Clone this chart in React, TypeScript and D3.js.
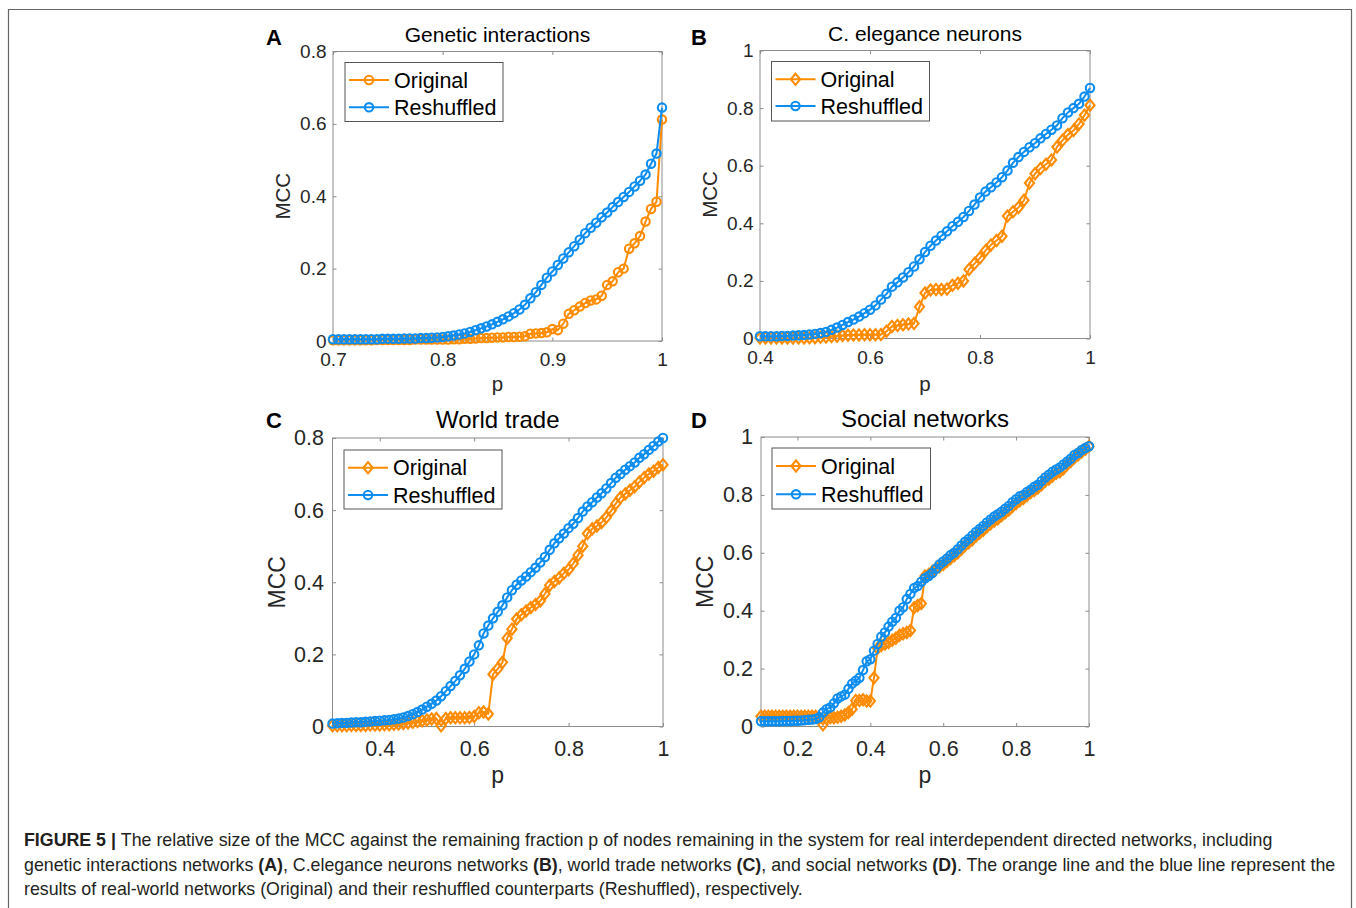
import React, { useEffect, useRef } from "react";
import * as d3 from "d3";

// sample positions p (regular grid of the simulation)
const grid = (start: number, step: number, n: number) =>
  d3.range(n).map((i) => +(start + i * step).toFixed(3));

// ---- A: Genetic interactions ----
const pA = grid(0.7, 0.005, 61);
const origA = [
  0.002, 0.002, 0.002, 0.002, 0.002, 0.002, 0.002, 0.002, 0.003, 0.003, 0.003,
  0.003, 0.003, 0.003, 0.003, 0.004, 0.004, 0.004, 0.004, 0.004, 0.004,
  0.004, 0.005, 0.005, 0.006, 0.006, 0.007, 0.008, 0.008, 0.009, 0.01, 0.01,
  0.011, 0.011, 0.012,
  0.013, 0.02, 0.021, 0.022, 0.024, 0.033, 0.03, 0.048, 0.075, 0.085, 0.095,
  0.105, 0.112, 0.115, 0.125, 0.155, 0.165, 0.19, 0.2, 0.255, 0.27, 0.29,
  0.33, 0.365, 0.385, 0.612,
];
const reshA = [
  0.005, 0.005, 0.005, 0.005, 0.005, 0.005, 0.005, 0.005, 0.005, 0.006, 0.006,
  0.006, 0.006, 0.007, 0.007, 0.007, 0.008, 0.008, 0.009, 0.01, 0.011,
  0.013, 0.015, 0.018, 0.021, 0.025, 0.03, 0.035, 0.04, 0.046, 0.053,
  0.06, 0.068, 0.077, 0.087, 0.1, 0.118, 0.135, 0.155, 0.175, 0.192,
  0.21, 0.228, 0.245, 0.262, 0.28, 0.298, 0.313, 0.327, 0.342, 0.355,
  0.37, 0.384, 0.398, 0.412, 0.427, 0.443, 0.46, 0.49, 0.518, 0.645,
];

// ---- B: C. elegance neurons ----
const pB = grid(0.4, 0.01, 61);
const origB = [
  0.002, 0.002, 0.002, 0.002, 0.002, 0.002, 0.002, 0.002, 0.002, 0.003,
  0.003, 0.004, 0.005, 0.007, 0.008, 0.01, 0.011, 0.012, 0.012, 0.013,
  0.013, 0.013, 0.014, 0.025, 0.042, 0.045, 0.048, 0.05, 0.052, 0.11,
  0.158, 0.168, 0.17, 0.17, 0.172, 0.185, 0.192, 0.2, 0.24, 0.26,
  0.28, 0.305, 0.325, 0.34, 0.355, 0.425, 0.44, 0.455, 0.48, 0.54,
  0.572, 0.59, 0.605, 0.62, 0.665, 0.688, 0.708, 0.722, 0.745, 0.775,
  0.81,
];
const reshB = [
  0.008, 0.008, 0.008, 0.008, 0.009, 0.009, 0.01, 0.011, 0.012, 0.014,
  0.016, 0.019, 0.023, 0.03, 0.038, 0.047, 0.057, 0.066, 0.076, 0.088,
  0.1, 0.115, 0.135, 0.155, 0.18, 0.195, 0.212, 0.23, 0.25, 0.275,
  0.3, 0.322, 0.34, 0.357, 0.372, 0.39, 0.405, 0.422, 0.443, 0.465,
  0.49, 0.51, 0.525, 0.542, 0.56, 0.583, 0.61, 0.63, 0.648, 0.664,
  0.678, 0.695, 0.71, 0.725, 0.74, 0.765, 0.785, 0.8, 0.815, 0.84,
  0.87,
];

// ---- C: World trade ----
const pC = grid(0.3, 0.01, 71);
const origC = [
  0.002, 0.002, 0.002, 0.002, 0.003, 0.003, 0.003, 0.003, 0.004, 0.004,
  0.004, 0.005, 0.005, 0.006, 0.007, 0.008, 0.01, 0.012, 0.014, 0.016,
  0.018, 0.021, 0.022, 0.002, 0.022, 0.024, 0.024, 0.024, 0.024, 0.025,
  0.028, 0.038, 0.04, 0.035, 0.145, 0.16, 0.178, 0.245, 0.27, 0.298,
  0.31, 0.32, 0.33, 0.338, 0.348, 0.368, 0.392, 0.402, 0.412, 0.425,
  0.435, 0.452, 0.475, 0.5, 0.535, 0.548, 0.556, 0.566, 0.58, 0.598,
  0.618, 0.635, 0.645, 0.655, 0.665, 0.678, 0.69, 0.7, 0.708, 0.718,
  0.726,
];
const reshC = [
  0.008, 0.009, 0.01, 0.01, 0.011, 0.012, 0.012, 0.013, 0.014, 0.015,
  0.016, 0.017, 0.018, 0.02, 0.022, 0.025, 0.029, 0.034, 0.04, 0.047,
  0.055, 0.063, 0.072, 0.084, 0.098, 0.112, 0.126, 0.142, 0.16, 0.18,
  0.2, 0.225, 0.258, 0.28, 0.3, 0.318, 0.336, 0.358, 0.378, 0.393,
  0.405, 0.416, 0.428, 0.44, 0.455, 0.47, 0.49, 0.508, 0.522, 0.535,
  0.55, 0.562, 0.578, 0.596, 0.61, 0.622, 0.635, 0.647, 0.66, 0.675,
  0.69, 0.7, 0.712, 0.722, 0.732, 0.745, 0.755, 0.767, 0.778, 0.79,
  0.8,
];

// ---- D: Social networks ----
const pD = grid(0.1, 0.01, 91);
const origD = [
  0.035, 0.035, 0.035, 0.035, 0.035, 0.035, 0.035, 0.035, 0.035, 0.035,
  0.035, 0.035, 0.035, 0.035, 0.035, 0.035, 0.03, 0.006, 0.028, 0.03,
  0.03, 0.032, 0.035, 0.04, 0.048, 0.06, 0.09, 0.09, 0.092, 0.088,
  0.088, 0.168, 0.27, 0.28, 0.285, 0.29, 0.298, 0.305, 0.315, 0.32,
  0.325, 0.332, 0.41, 0.418, 0.425, 0.52, 0.525, 0.535, 0.545, 0.552,
  0.56, 0.57, 0.58, 0.59, 0.6, 0.612, 0.625, 0.635, 0.645, 0.658,
  0.668, 0.678, 0.69, 0.7, 0.71, 0.718, 0.728, 0.738, 0.748, 0.76,
  0.77, 0.78, 0.788, 0.798, 0.808, 0.815, 0.825, 0.835, 0.848, 0.855,
  0.865, 0.875, 0.88, 0.89, 0.905, 0.915, 0.928, 0.938, 0.948, 0.958,
  0.968,
];
const reshD = [
  0.018, 0.018, 0.018, 0.018, 0.018, 0.018, 0.019, 0.019, 0.019, 0.02,
  0.02, 0.021, 0.022, 0.023, 0.024, 0.026, 0.032, 0.048, 0.06, 0.066,
  0.08, 0.097, 0.104, 0.11, 0.13, 0.148, 0.158, 0.168, 0.195, 0.225,
  0.232, 0.262, 0.285, 0.31, 0.325, 0.345, 0.362, 0.375, 0.4, 0.412,
  0.44, 0.458, 0.478, 0.485, 0.5, 0.512, 0.52, 0.53, 0.545, 0.56,
  0.57, 0.58, 0.592, 0.6, 0.612, 0.625, 0.638, 0.648, 0.66, 0.672,
  0.682, 0.693, 0.705, 0.715, 0.725, 0.733, 0.742, 0.752, 0.762, 0.775,
  0.785, 0.795, 0.8, 0.81, 0.818, 0.828, 0.835, 0.848, 0.86, 0.87,
  0.88, 0.888, 0.895, 0.905, 0.915, 0.925, 0.938, 0.945, 0.955, 0.962,
  0.968,
];

const seriesNames = ["Original", "Reshuffled"];
const ORANGE = "#ff8c00";
const BLUE = "#0d8df0";
const FONT = "'Liberation Sans', Arial, Helvetica, sans-serif";

const panels = [
  {
    letter: "A", title: "Genetic interactions", p: pA, orig: origA, resh: reshA,
    xDomain: [0.7, 1], yDomain: [0, 0.8], xTicks: [0.7, 0.8, 0.9, 1], yTicks: [0, 0.2, 0.4, 0.6, 0.8],
    origMarker: "circle", box: { l: 333, r: 662, t: 51.5, b: 341 },
    tickFs: 19, titleFs: 21, labelFs: 20.5, xPad: 12, yPad: 6.5,
    letterPos: [266, 45], titleY: 41.5, ylabX: 283, xlabY: 391,
    legend: { x: 345, y: 62.5, w: 158, h: 59, rows: [17.5, 44.8] },
  },
  {
    letter: "B", title: "C. elegance neurons", p: pB, orig: origB, resh: reshB,
    xDomain: [0.4, 1], yDomain: [0, 1], xTicks: [0.4, 0.6, 0.8, 1], yTicks: [0, 0.2, 0.4, 0.6, 0.8, 1],
    origMarker: "diamond", box: { l: 760, r: 1090, t: 50.5, b: 338.5 },
    tickFs: 19, titleFs: 21, labelFs: 20.5, xPad: 12, yPad: 6.5,
    letterPos: [691, 45], titleY: 41, ylabX: 710, xlabY: 391,
    legend: { x: 771.5, y: 61.5, w: 158, h: 59.5, rows: [17.8, 44.5] },
  },
  {
    letter: "C", title: "World trade", p: pC, orig: origC, resh: reshC,
    xDomain: [0.3, 1], yDomain: [0, 0.8], xTicks: [0.4, 0.6, 0.8, 1], yTicks: [0, 0.2, 0.4, 0.6, 0.8],
    origMarker: "diamond", box: { l: 332.5, r: 663, t: 438, b: 726.5 },
    tickFs: 21.5, titleFs: 24, labelFs: 23, xPad: 14.5, yPad: 8.5,
    letterPos: [266, 428], titleY: 428, ylabX: 277, xlabY: 783,
    legend: { x: 344, y: 450, w: 158, h: 59, rows: [17.7, 45] },
  },
  {
    letter: "D", title: "Social networks", p: pD, orig: origD, resh: reshD,
    xDomain: [0.1, 1], yDomain: [0, 1], xTicks: [0.2, 0.4, 0.6, 0.8, 1], yTicks: [0, 0.2, 0.4, 0.6, 0.8, 1],
    origMarker: "diamond", box: { l: 761, r: 1089, t: 437, b: 726.5 },
    tickFs: 21.5, titleFs: 24, labelFs: 23, xPad: 14.5, yPad: 8,
    letterPos: [691, 428], titleY: 427, ylabX: 705, xlabY: 783,
    legend: { x: 772, y: 448, w: 158.5, h: 61, rows: [18, 46.3] },
  },
];

const TICK = 3.5;
const fmt = (d: any) => String(+(+d).toFixed(2));
const diamondPath = "M0,-5.6L4.6,0L0,5.6L-4.6,0Z";

function drawMarkers(g: any, pts: number[][], kind: string, color: string) {
  if (kind === "circle") {
    g.selectAll(null).data(pts).join("circle")
      .attr("cx", (d: number[]) => d[0]).attr("cy", (d: number[]) => d[1])
      .attr("r", 4.2).attr("fill", "none").attr("stroke", color).attr("stroke-width", 2.1);
  } else {
    g.selectAll(null).data(pts).join("path")
      .attr("d", diamondPath)
      .attr("transform", (d: number[]) => `translate(${d[0]},${d[1]})`)
      .attr("fill", "none").attr("stroke", color).attr("stroke-width", 2.1);
  }
}

function drawPanel(svg: any, cfg: any) {
  const { l, r, t, b } = cfg.box;
  const x = d3.scaleLinear().domain(cfg.xDomain).range([l, r]);
  const y = d3.scaleLinear().domain(cfg.yDomain).range([b, t]);
  const g = svg.append("g").attr("font-family", FONT);

  g.append("rect").attr("x", l).attr("y", t).attr("width", r - l).attr("height", b - t)
    .attr("fill", "none").attr("stroke", "#8c8c8c").attr("stroke-width", 1);

  const styleAxis = (sel: any) => {
    sel.select(".domain").remove();
    sel.selectAll(".tick line").attr("stroke", "#8c8c8c");
    sel.selectAll(".tick text").attr("fill", "#262626").attr("font-size", cfg.tickFs).attr("font-family", FONT);
  };

  g.append("g").attr("transform", `translate(0,${b})`)
    .call(d3.axisBottom(x).tickValues(cfg.xTicks).tickFormat(fmt).tickSizeInner(-TICK).tickSizeOuter(0).tickPadding(cfg.xPad))
    .call(styleAxis);
  g.append("g").attr("transform", `translate(0,${t})`)
    .call(d3.axisTop(x).tickValues(cfg.xTicks).tickFormat(() => "").tickSizeInner(-TICK).tickSizeOuter(0))
    .call(styleAxis);
  g.append("g").attr("transform", `translate(${l},0)`)
    .call(d3.axisLeft(y).tickValues(cfg.yTicks).tickFormat(fmt).tickSizeInner(-TICK).tickSizeOuter(0).tickPadding(cfg.yPad))
    .call(styleAxis);
  g.append("g").attr("transform", `translate(${r},0)`)
    .call(d3.axisRight(y).tickValues(cfg.yTicks).tickFormat(() => "").tickSizeInner(-TICK).tickSizeOuter(0))
    .call(styleAxis);

  // series: Original first, Reshuffled on top
  const series = [
    { vals: cfg.orig, color: ORANGE, marker: cfg.origMarker },
    { vals: cfg.resh, color: BLUE, marker: "circle" },
  ];
  const line = d3.line<number[]>().x((d) => d[0]).y((d) => d[1]);
  series.forEach((s) => {
    const pts = cfg.p.map((pv: number, i: number) => [x(pv), y(s.vals[i])]);
    const sg = g.append("g");
    sg.append("path").attr("d", line(pts)).attr("fill", "none").attr("stroke", s.color)
      .attr("stroke-width", 2).attr("stroke-linejoin", "round");
    drawMarkers(sg, pts, s.marker, s.color);
  });

  // title, letter, axis labels
  g.append("text").attr("x", (l + r) / 2).attr("y", cfg.titleY).attr("text-anchor", "middle")
    .attr("font-size", cfg.titleFs).attr("fill", "#000").text(cfg.title);
  g.append("text").attr("x", cfg.letterPos[0]).attr("y", cfg.letterPos[1])
    .attr("font-size", 22).attr("font-weight", "bold").attr("fill", "#000").text(cfg.letter);
  g.append("text").attr("x", (l + r) / 2).attr("y", cfg.xlabY).attr("text-anchor", "middle")
    .attr("font-size", cfg.labelFs).attr("fill", "#262626").text("p");
  g.append("text").attr("transform", `translate(${cfg.ylabX},${(t + b) / 2}) rotate(-90)`)
    .attr("text-anchor", "middle").attr("dy", "0.36em")
    .attr("font-size", cfg.labelFs).attr("fill", "#262626").text("MCC");

  // legend
  const lg = cfg.legend;
  const leg = g.append("g").attr("transform", `translate(${lg.x},${lg.y})`);
  leg.append("rect").attr("width", lg.w).attr("height", lg.h).attr("fill", "#fff")
    .attr("stroke", "#555").attr("stroke-width", 1);
  series.forEach((s, i) => {
    const cy = lg.rows[i];
    leg.append("line").attr("x1", 4).attr("x2", 44).attr("y1", cy).attr("y2", cy)
      .attr("stroke", s.color).attr("stroke-width", 2);
    drawMarkers(leg, [[24, cy]], s.marker, s.color);
    leg.append("text").attr("x", 49).attr("y", cy).attr("dy", "0.36em")
      .attr("font-size", 21.5).attr("fill", "#000").text(seriesNames[i]);
  });
}

export default function App() {
  const ref = useRef<SVGSVGElement>(null);

  useEffect(() => {
    if (!ref.current) return;
    const svg = d3.select(ref.current);
    svg.selectAll("*").remove();

    // outer frame
    svg.append("path").attr("d", "M8.5,910V9.5H1351.5V910")
      .attr("fill", "none").attr("stroke", "#666").attr("stroke-width", 1.2);

    panels.forEach((cfg) => drawPanel(svg, cfg));

    // caption
    const cap = svg.append("text").attr("font-family", FONT).attr("font-size", 17.8).attr("fill", "#231f20");
    const lines: [string, boolean][][] = [
      [["FIGURE 5 | ", true], ["The relative size of the MCC against the remaining fraction p of nodes remaining in the system for real interdependent directed networks, including", false]],
      [["genetic interactions networks ", false], ["(A)", true], [", C.elegance neurons networks ", false], ["(B)", true], [", world trade networks ", false], ["(C)", true], [", and social networks ", false], ["(D)", true], [". The orange line and the blue line represent the", false]],
      [["results of real-world networks (Original) and their reshuffled counterparts (Reshuffled), respectively.", false]],
    ];
    const baselines = [846, 871, 895];
    lines.forEach((parts, li) => {
      parts.forEach(([txt, bold], pi) => {
        const ts = cap.append("tspan").text(txt).attr("font-weight", bold ? "bold" : "normal");
        if (pi === 0) ts.attr("x", 24).attr("y", baselines[li]);
      });
    });
  }, []);

  return (
    <svg
      ref={ref}
      width={1356}
      height={908}
      style={{ position: "absolute", left: 0, top: 0, background: "#fff" }}
    />
  );
}
